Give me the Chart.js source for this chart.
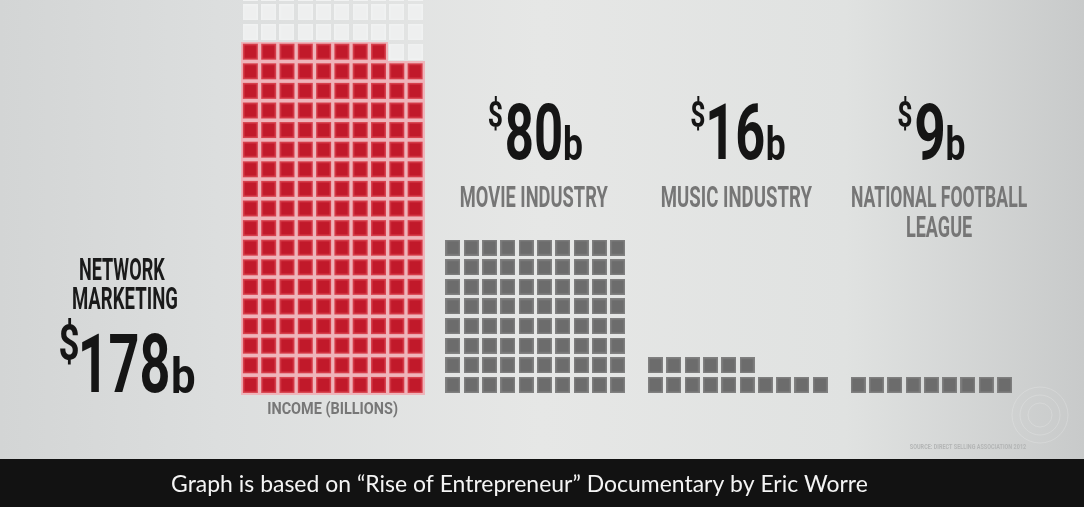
<!DOCTYPE html>
<html>
<head>
<meta charset="utf-8">
<script src="https://cdn.jsdelivr.net/npm/chart.js@4.4.1/dist/chart.umd.min.js"></script>
<style>
  html, body { margin: 0; padding: 0; background: #dcdede; }
  #wrap { position: relative; width: 1084px; height: 507px; }
  canvas { display: block; }
</style>
</head>
<body>
<div id="wrap"><canvas id="c" width="1084" height="507"></canvas></div>
<script>
// ---------------- DATA ----------------
const categories = [['NETWORK', 'MARKETING'], ['MOVIE INDUSTRY'], ['MUSIC INDUSTRY'], ['NATIONAL FOOTBALL', 'LEAGUE']];
const incomeBillions = [178, 80, 16, 9];          // one square = $1b
const valuePrefix = '$';
const valueSuffix = 'b';
const axisTitle = 'INCOME (BILLIONS)';
const footerText = 'Graph is based on \u201CRise of Entrepreneur\u201D Documentary by Eric Worre';
const sourceText = 'SOURCE: DIRECT SELLING ASSOCIATION 2012';
const cellsPerRow = 10;
const gridRowsShown = 21;                          // empty grid behind the first column

// ---------------- LAYOUT ----------------
const GROUP_STEP = 11.07;   // columns from one group start to the next
const X_MIN = -13.68, X_MAX = 45.55;
const Y_MIN = -6.23, Y_MAX = 19.635;

function cells(group, from, to) {
  const pts = [];
  for (let k = from; k < to; k++) {
    pts.push({ x: group * GROUP_STEP + (k % cellsPerRow), y: Math.floor(k / cellsPerRow) });
  }
  return pts;
}

function makeCell(w, h, cw, ch, gap, outer, inner) {
  const c = document.createElement('canvas');
  c.width = w; c.height = h;
  const g = c.getContext('2d');
  if (gap) { g.fillStyle = gap; g.fillRect(0, 0, w, h); }
  const x0 = (w - cw) / 2, y0 = (h - ch) / 2;
  g.fillStyle = outer; g.fillRect(x0, y0, cw, ch);
  g.fillStyle = inner; g.fillRect(x0 + 1.5, y0 + 1.5, cw - 3, ch - 3);
  return c;
}
const redCell = makeCell(19, 20, 15, 16, '#efb4ba', '#d8424e', '#c1192a');
const greyCell = makeCell(15, 16, 15, 16, null, '#808080', '#6c6c6c');
const emptyCell = makeCell(15, 16, 15, 16, null, '#f1f2f2', '#eeefef');

const datasets = [];
datasets.push({ label: categories[0].join(' '), data: cells(0, 0, incomeBillions[0]), pointStyle: redCell });
for (let g = 1; g < incomeBillions.length; g++) {
  datasets.push({ label: categories[g].join(' '), data: cells(g, 0, incomeBillions[g]), pointStyle: greyCell });
}
datasets.push({ label: 'empty', data: cells(0, incomeBillions[0], gridRowsShown * cellsPerRow), pointStyle: emptyCell });
datasets.forEach(d => { d.pointRadius = 8; d.pointHoverRadius = 8; d.clip = false; });

// ---------------- TEXT HELPERS ----------------
function fitBox(ctx, text, x0, y0, x1, y1, color, weight, family) {
  ctx.save();
  ctx.font = weight + ' 100px ' + family;
  ctx.textAlign = 'left';
  ctx.textBaseline = 'alphabetic';
  const m = ctx.measureText(text);
  const w = m.actualBoundingBoxLeft + m.actualBoundingBoxRight;
  const h = m.actualBoundingBoxAscent + m.actualBoundingBoxDescent;
  ctx.translate(x0, y0);
  ctx.scale((x1 - x0) / w, (y1 - y0) / h);
  ctx.fillStyle = color;
  ctx.fillText(text, m.actualBoundingBoxLeft, m.actualBoundingBoxAscent);
  ctx.restore();
}

const bigSpec = { dW: 18, dT: 318, dB: 365, g1: 4, nW: 28.7, nT: 332, nB: 393, g2: 5, bW: 21, bT: 355, bB: 393 };
const topSpec = { dW: 13, dT: 97, dB: 131, g1: 5, nW: 27, nT: 103, nB: 160, g2: 4, bW: 17, bT: 125, bB: 160 };

function valueWidth(v, s) { return s.dW + s.g1 + String(v).length * s.nW + s.g2 + s.bW; }
function drawValue(ctx, v, left, s) {
  const col = '#151515';
  const n = String(v);
  let x = left;
  fitBox(ctx, valuePrefix, x, s.dT, x + s.dW, s.dB, col, '700', 'Roboto');
  x += s.dW + s.g1;
  fitBox(ctx, n, x, s.nT, x + n.length * s.nW, s.nB, col, '700', 'Roboto');
  x += n.length * s.nW + s.g2;
  fitBox(ctx, valueSuffix, x, s.bT, x + s.bW, s.bB, col, '700', 'Roboto');
}

const catWidths = [[85, 104], [147], [150], [175, 65]];

const backgroundPlugin = {
  id: 'bg',
  beforeDraw(chart) {
    const ctx = chart.ctx, W = chart.width, H = chart.height;
    ctx.save();
    const lg = ctx.createLinearGradient(0, 0, W, 0);
    lg.addColorStop(0, '#d3d5d5');
    lg.addColorStop(0.2, '#dcdede');
    lg.addColorStop(0.5, '#e6e7e6');
    lg.addColorStop(0.78, '#e0e2e1');
    lg.addColorStop(1, '#c8caca');
    ctx.fillStyle = lg;
    ctx.fillRect(0, 0, W, H);
    // faint watermark
    ctx.strokeStyle = 'rgba(255,255,255,0.18)';
    ctx.lineWidth = 1;
    [28, 20, 12].forEach(r => { ctx.beginPath(); ctx.arc(1040, 415, r, 0, Math.PI * 2); ctx.stroke(); });
    ctx.restore();
  },
  afterDatasetsDraw(chart) {
    const ctx = chart.ctx, W = chart.width, H = chart.height;
    const xs = chart.scales.x;
    ctx.save();
    // Left label (network marketing)
    fitBox(ctx, categories[0][0], 80, 257, 165, 280, '#1a1a1a', '700', 'Roboto');
    fitBox(ctx, categories[0][1], 73, 286, 177, 309, '#1a1a1a', '700', 'Roboto');
    drawValue(ctx, incomeBillions[0], 60, bigSpec);
    // Axis title under first column
    const c0 = xs.getPixelForValue(4.5);
    fitBox(ctx, axisTitle, c0 - 64.5, 401, c0 + 64.5, 418, '#777777', '700', 'Roboto');
    // Other groups
    for (let g = 1; g < incomeBillions.length; g++) {
      const v = incomeBillions[g];
      const used = Math.min(v, cellsPerRow);
      const cv = xs.getPixelForValue(g * GROUP_STEP + (used - 1) / 2);
      const vw = valueWidth(v, topSpec);
      drawValue(ctx, v, cv - vw / 2, topSpec);
      const cc = xs.getPixelForValue(g * GROUP_STEP + (cellsPerRow - 1) / 2);
      categories[g].forEach((line, i) => {
        const w = catWidths[g][i];
        fitBox(ctx, line, cc - w / 2 - 1, 185 + i * 30, cc + w / 2 - 1, 207 + i * 30, '#767676', '700', 'Roboto');
      });
    }
    // Source note
    fitBox(ctx, sourceText, 910, 443, 1026, 449, '#b3b5b5', '700', 'Roboto');
    // Footer band
    ctx.fillStyle = '#121212';
    ctx.fillRect(0, 459, W, H - 459);
    fitBox(ctx, footerText, 172, 474, 867, 496, '#f4f4f4', '400', 'Lato');
    ctx.restore();
  }
};

new Chart(document.getElementById('c'), {
  type: 'scatter',
  data: { datasets },
  options: {
    responsive: false,
    animation: false,
    events: [],
    layout: { padding: 0, autoPadding: false },
    plugins: { legend: { display: false }, tooltip: { enabled: false } },
    scales: {
      x: { type: 'linear', display: false, min: X_MIN, max: X_MAX },
      y: { type: 'linear', display: false, min: Y_MIN, max: Y_MAX }
    }
  },
  plugins: [backgroundPlugin]
});
</script>
</body>
</html>
